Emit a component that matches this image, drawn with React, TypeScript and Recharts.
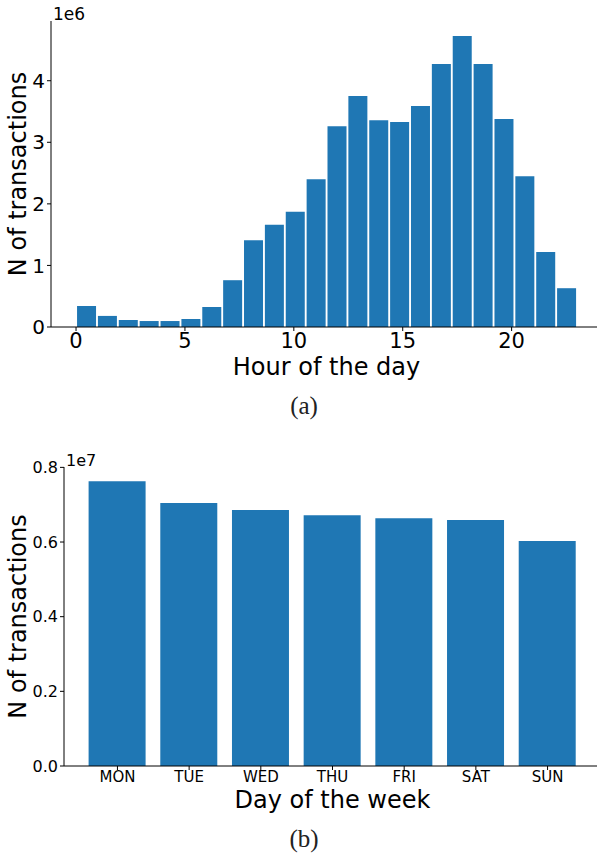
import { BarChart, Bar, XAxis, YAxis, Label } from 'recharts';

// (a) transactions per hour of the day, in millions
const hours = [0, 1, 2, 3, 4, 5, 6, 7, 8, 9, 10, 11, 12, 13, 14, 15, 16, 17, 18, 19, 20, 21, 22, 23];
const hourCounts = [
  0.341, 0.18, 0.114, 0.097, 0.097, 0.13, 0.325, 0.76, 1.41, 1.66, 1.87, 2.4,
  3.26, 3.75, 3.36, 3.33, 3.59, 4.27, 4.726, 4.27, 3.38, 2.45, 1.22, 0.63,
];
const hourTicks = [0, 5, 10, 15, 20];
const hourYTicks = [0, 1, 2, 3, 4];

// (b) transactions per day of the week, in millions
const days = ['MON', 'TUE', 'WED', 'THU', 'FRI', 'SAT', 'SUN'];
const dayCounts = [7.63, 7.045, 6.86, 6.72, 6.64, 6.59, 6.03];
const dayYTicks = [0, 0.2, 0.4, 0.6, 0.8];

const BLUE = '#1f77b4';
const FONT = '"DejaVu Sans", sans-serif';

// histogram of 24 bins spread over 0..23
const binWidth = 23 / 24;
const hourData = hours.map((h, i) => ({ x: (h + 0.5) * binWidth, n: hourCounts[i] * 1e6 }));
const dayData = days.map((d, i) => ({ day: d, n: dayCounts[i] * 1e6 }));

const offsetText = (text: string, size: number) => (props: any) => {
  const vb = props.viewBox || { x: 0, y: 0, width: 0 };
  return (
    <text x={vb.x + vb.width + 2} y={vb.y - 1} fontSize={size} fill="#000" fontFamily={FONT}>
      {text}
    </text>
  );
};

const caption: React.CSSProperties = {
  position: 'absolute',
  left: 264,
  width: 80,
  textAlign: 'center',
  fontFamily: '"Liberation Serif", serif',
  fontSize: 25,
  lineHeight: '25px',
  color: '#222',
};

export default function App() {
  return (
    <div style={{ position: 'absolute', left: 0, top: 0, width: 597, height: 855, overflow: 'hidden', background: '#fff' }}>
      <BarChart
        width={602}
        height={385}
        data={hourData}
        margin={{ top: 21, right: 0, bottom: 0, left: 0 }}
        style={{ position: 'absolute', left: 0, top: 0, fontFamily: FONT }}
      >
        <XAxis xAxisId="top" orientation="top" type="number" dataKey="x" domain={[-1.15, 24.15]} height={0} tick={false} tickLine={false} axisLine={{ stroke: '#000' }} />
        <XAxis
          type="number"
          dataKey="x"
          domain={[-1.15, 24.15]}
          ticks={hourTicks}
          interval={0}
          height={58}
          tickSize={4}
          tickMargin={2}
          tick={{ fontSize: 21, fill: '#000' }}
          axisLine={{ stroke: '#000' }}
          tickLine={{ stroke: '#000' }}
        >
          <Label value="Hour of the day" position="insideBottom" offset={10} fontSize={24} fill="#000" />
        </XAxis>
        <YAxis
          type="number"
          domain={[0, 4.97e6]}
          ticks={hourYTicks.map((v) => v * 1e6)}
          tickFormatter={(v) => String(v / 1e6)}
          interval={0}
          width={51}
          tickSize={4}
          tickMargin={2}
          tick={{ fontSize: 20, fill: '#000' }}
          axisLine={{ stroke: '#000' }}
          tickLine={{ stroke: '#000' }}
        >
          <Label value="N of transactions" angle={-90} position="insideLeft" offset={17.5} fontSize={24} fill="#000" style={{ textAnchor: 'middle' }} />
          <Label content={offsetText('1e6', 17)} />
        </YAxis>
        <Bar dataKey="n" fill={BLUE} barSize={19} isAnimationActive={false} />
      </BarChart>

      <div style={{ ...caption, top: 393 }}>(a)</div>

      <BarChart
        width={601}
        height={386}
        data={dayData}
        margin={{ top: 27, right: 0, bottom: 0, left: 0 }}
        style={{ position: 'absolute', left: 0, top: 440, fontFamily: FONT }}
      >
        <XAxis xAxisId="top" orientation="top" dataKey="day" padding={{ left: 17.6, right: 17.6 }} height={0} tick={false} tickLine={false} axisLine={{ stroke: '#000' }} />
        <XAxis
          dataKey="day"
          padding={{ left: 17.6, right: 17.6 }}
          interval={0}
          height={60}
          tickSize={4}
          tickMargin={1}
          tick={{ fontSize: 15, fill: '#000' }}
          axisLine={{ stroke: '#000' }}
          tickLine={{ stroke: '#000' }}
        >
          <Label value="Day of the week" position="insideBottom" offset={18} fontSize={24} fill="#000" />
        </XAxis>
        <YAxis
          type="number"
          domain={[0, 8.01e6]}
          ticks={dayYTicks.map((v) => v * 1e7)}
          tickFormatter={(v) => (v / 1e7).toFixed(1)}
          interval={0}
          width={64}
          tickSize={4}
          tickMargin={2}
          tick={{ fontSize: 16, fill: '#000' }}
          axisLine={{ stroke: '#000' }}
          tickLine={{ stroke: '#000' }}
        >
          <Label value="N of transactions" angle={-90} position="insideLeft" offset={17.5} fontSize={24} fill="#000" style={{ textAnchor: 'middle' }} />
          <Label content={offsetText('1e7', 16)} />
        </YAxis>
        <Bar dataKey="n" fill={BLUE} barSize={57} isAnimationActive={false} />
      </BarChart>

      <div style={{ ...caption, top: 826 }}>(b)</div>
    </div>
  );
}
